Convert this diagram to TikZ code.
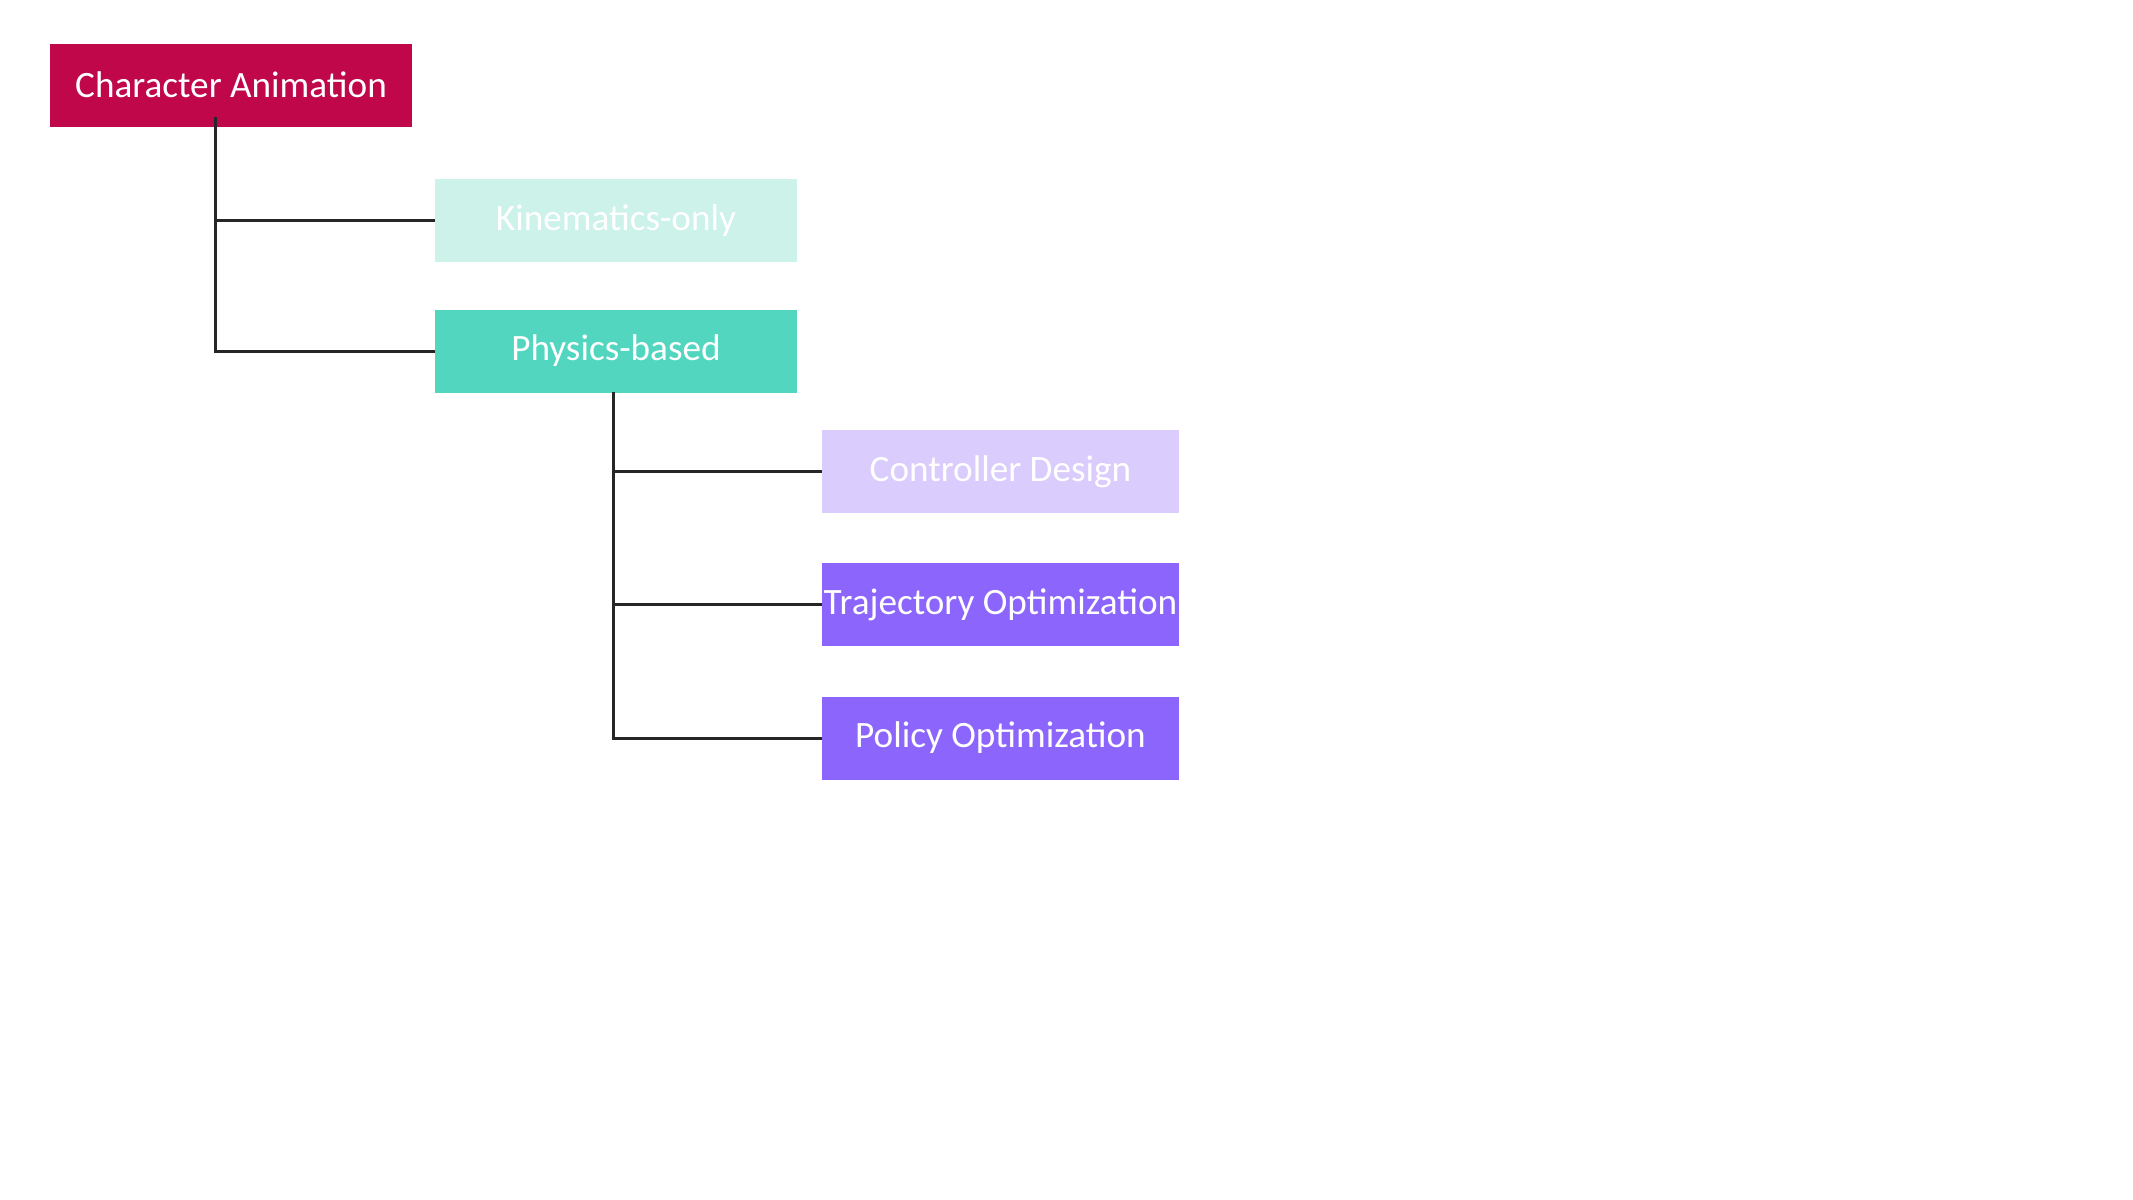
\documentclass[tikz,border=0pt]{standalone}
\usepackage{fontspec}
\setmainfont{Carlito}
\definecolor{crimson}{HTML}{C0074A}
\definecolor{mintlight}{HTML}{CCF2EA}
\definecolor{mint}{HTML}{52D6BF}
\definecolor{lavender}{HTML}{DACCFC}
\definecolor{violet}{HTML}{8C66FC}
\tikzset{
  box/.style={rectangle,inner sep=0pt,text=white,font=\fontsize{18.6}{22}\selectfont,
    minimum width=181pt,minimum height=41.5pt},
  link/.style={line width=1.5pt,color=black!85}
}
\begin{document}
\begin{tikzpicture}[x=0.5pt,y=-0.5pt]
  \useasboundingbox (0,0) rectangle (2133,1200);

  \node[box,fill=crimson]   (char) at (231,85)   {Character Animation};
  \node[box,fill=mintlight] (kin)  at (616,220.5) {Kinematics-only};
  \node[box,fill=mint]      (phys) at (616,351)  {Physics-based};

  \node[box,fill=lavender,minimum width=178.5pt] (ctrl) at (1000.5,471.5) {Controller Design};
  \node[box,fill=violet,minimum width=178.5pt]   (traj) at (1000.5,604.5) {Trajectory Optimization};
  \node[box,fill=violet,minimum width=178.5pt]   (pol)  at (1000.5,738)   {Policy Optimization};

  \coordinate (charstem) at (215,117);
  \coordinate (physstem) at (613,392);

  \draw[link] (charstem) |- (kin.west);
  \draw[link] (charstem) |- (phys.west);
  \foreach \leaf in {ctrl,traj,pol}
    \draw[link] (physstem) |- (\leaf.west);
\end{tikzpicture}
\end{document}
